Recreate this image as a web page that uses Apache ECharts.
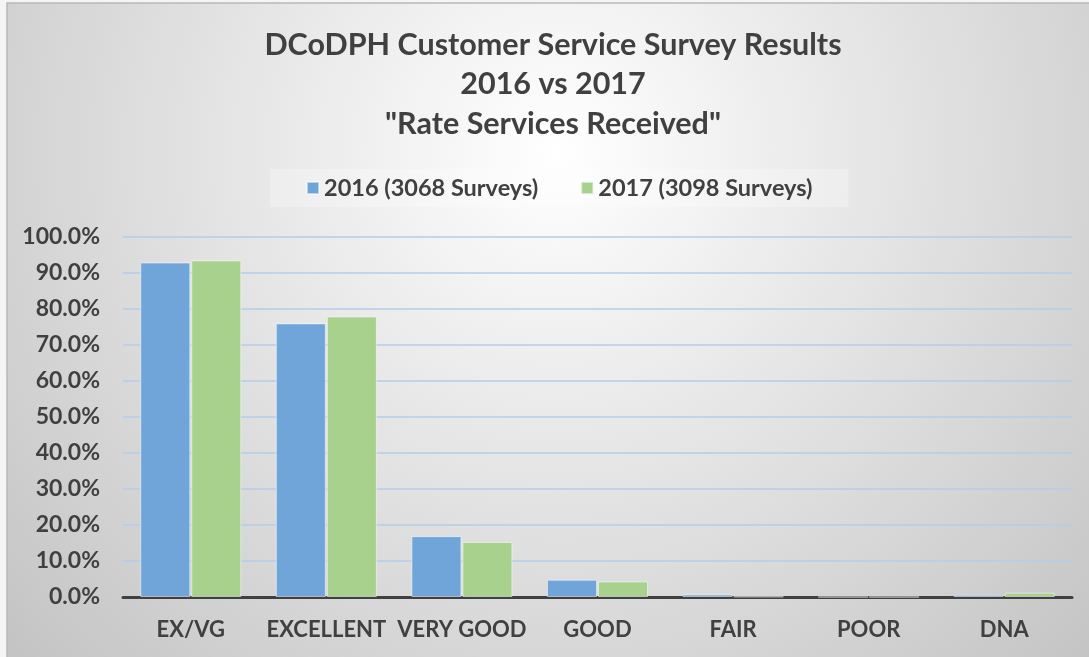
<!DOCTYPE html>
<html>
<head>
<meta charset="utf-8">
<script src="https://cdn.jsdelivr.net/npm/echarts@6/dist/echarts.min.js"></script>
<style>
    html, body { margin: 0; padding: 0; background: #f5f5f5; }
    #main { width: 1089px; height: 657px; }
</style>
</head>
<body>
<div id="main"></div>
<script>
// categories and survey results (share of responses)
var categories = ['EX/VG', 'EXCELLENT', 'VERY GOOD', 'GOOD', 'FAIR', 'POOR', 'DNA'];
var seriesNames = ['2016 (3068 Surveys)', '2017 (3098 Surveys)'];
var values2016 = [0.929, 0.760, 0.169, 0.048, 0.007, 0.000, 0.006];
var values2017 = [0.935, 0.779, 0.153, 0.043, 0.001, 0.000, 0.012];

var textColor = '#404040';
var font = 'Lato';

var chart = echarts.init(document.getElementById('main'));
var option = {
    backgroundColor: '#f5f5f5',
    animation: false,
    // chart area with radial shading, like the office chart style
    graphic: [
        {
            type: 'rect',
            z: -10,
            shape: { x: 7, y: 3, width: 1100, height: 670 },
            style: {
                fill: {
                    type: 'radial', x: 0.5, y: 0.22, r: 1.1,
                    colorStops: [
                        { offset: 0, color: '#ffffff' },
                        { offset: 1, color: '#c4c4c4' }
                    ]
                },
                stroke: '#b8b8b8',
                lineWidth: 1.5
            }
        }
    ],
    title: {
        text: 'DCoDPH Customer Service Survey Results\n2016 vs 2017\n"Rate Services Received"',
        left: 548,
        top: 20,
        textAlign: 'center',
        textStyle: {
            fontFamily: font,
            fontWeight: 'bold',
            fontSize: 30.5,
            lineHeight: 39.5,
            color: textColor
        }
    },
    legend: {
        top: 169,
        left: 270,
        data: seriesNames,
        icon: 'rect',
        itemWidth: 12,
        itemHeight: 12,
        itemGap: 42,
        padding: [7, 36],
        backgroundColor: 'rgba(255,255,255,0.25)',
        textStyle: {
            fontFamily: font,
            fontWeight: 'bold',
            fontSize: 23.5,
            color: textColor
        }
    },
    grid: {
        left: 123,
        right: 17,
        top: 237,
        bottom: 60
    },
    xAxis: {
        type: 'category',
        data: categories,
        axisTick: { show: false },
        axisLine: { lineStyle: { color: '#404040', width: 3 } },
        axisLabel: {
            interval: 0,
            margin: 22,
            fontFamily: font,
            fontWeight: 'bold',
            fontSize: 22,
            color: textColor
        }
    },
    yAxis: {
        type: 'value',
        min: 0,
        max: 1,
        interval: 0.1,
        axisLine: { show: false },
        axisTick: { show: false },
        splitLine: { lineStyle: { color: '#b3cde8', width: 1.5 } },
        axisLabel: {
            margin: 23,
            fontFamily: font,
            fontWeight: 'bold',
            fontSize: 23,
            color: textColor,
            formatter: function (v) {
                return (v * 100).toFixed(1) + '%';
            }
        }
    },
    series: [
        {
            name: seriesNames[0],
            type: 'bar',
            data: values2016,
            barWidth: 50,
            barGap: '2%',
            itemStyle: { color: '#6fa5d9', borderColor: 'rgba(255,255,255,0.5)', borderWidth: 1 }
        },
        {
            name: seriesNames[1],
            type: 'bar',
            data: values2017,
            barWidth: 50,
            itemStyle: { color: '#a9d18e', borderColor: 'rgba(255,255,255,0.5)', borderWidth: 1 }
        }
    ]
};
chart.setOption(option);
</script>
</body>
</html>
